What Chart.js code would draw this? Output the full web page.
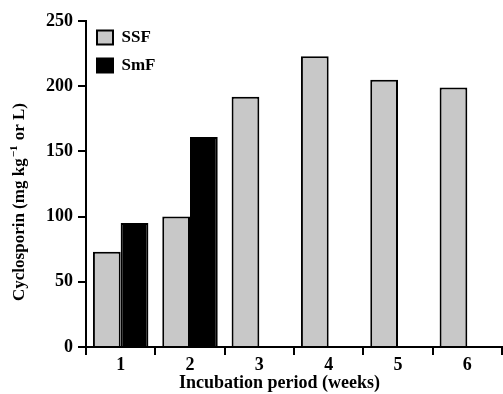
<!DOCTYPE html>
<html>
<head>
<meta charset="utf-8">
<script src="https://cdn.jsdelivr.net/npm/chart.js@4.4.1/dist/chart.umd.min.js"></script>
<style>
  html, body { margin: 0; padding: 0; background: #fff; }
  #wrap { width: 503px; height: 394px; }
</style>
</head>
<body>
<div id="wrap"><canvas id="cyclo" width="503" height="394"></canvas></div>
<script>
// data
const weeks = ['1', '2', '3', '4', '5', '6'];
const ssfValues = [73, 100, 192, 223, 205, 199];
const smfValues = [95, 161, null, null, null, null];
const yTicks = [0, 50, 100, 150, 200, 250];

const xTitle = 'Incubation period (weeks)';
const yTitleParts = ['Cyclosporin (mg kg', '\u22121', ' or L)'];

const serif = "'Liberation Serif', 'Times New Roman', serif";
Chart.defaults.font.family = serif;
Chart.defaults.font.weight = 'bold';
Chart.defaults.color = '#000';

// axis titles drawn by hand: the originals sit off-centre and use a real superscript
const axisTitles = {
  id: 'axisTitles',
  afterDraw(chart) {
    const { ctx, chartArea: a } = chart;
    ctx.save();
    ctx.fillStyle = '#000';
    ctx.textBaseline = 'middle';

    ctx.font = 'bold 18px ' + serif;
    ctx.textAlign = 'center';
    ctx.fillText(xTitle, a.left + (a.right - a.left) * 0.465, a.bottom + 36);

    const big = 'bold 17px ' + serif, small = 'bold 11px ' + serif;
    ctx.font = big;
    const w0 = ctx.measureText(yTitleParts[0]).width;
    const w2 = ctx.measureText(yTitleParts[2]).width;
    ctx.font = small;
    const w1 = ctx.measureText(yTitleParts[1]).width + 2;
    const total = w0 + w1 + w2;
    const cy = (a.top + a.bottom) / 2 + 18;
    ctx.translate(20, cy);
    ctx.rotate(-Math.PI / 2);
    ctx.textAlign = 'left';
    let x = -total / 2;
    ctx.font = big;
    ctx.fillText(yTitleParts[0], x, 0);
    x += w0;
    ctx.font = small;
    ctx.fillText(yTitleParts[1], x + 1, -6);
    x += w1;
    ctx.font = big;
    ctx.fillText(yTitleParts[2], x, 0);
    ctx.restore();
  }
};

const ctx = document.getElementById('cyclo').getContext('2d');

new Chart(ctx, {
  type: 'bar',
  data: {
    labels: weeks,
    datasets: [
      {
        label: 'SSF',
        data: ssfValues,
        backgroundColor: '#c8c8c8',
        borderColor: '#000',
        borderWidth: 2,
        borderSkipped: 'bottom'
      },
      {
        label: 'SmF',
        data: smfValues,
        backgroundColor: '#000',
        borderColor: '#000',
        borderWidth: 2,
        borderSkipped: 'bottom'
      }
    ]
  },
  options: {
    responsive: false,
    animation: false,
    layout: { padding: { top: 21, right: 1, bottom: 0, left: 0 } },
    datasets: { bar: { categoryPercentage: 0.8, barPercentage: 1.0 } },
    plugins: {
      tooltip: { enabled: false },
      legend: {
        position: 'chartArea',
        align: 'start',
        title: { display: true, text: '', font: { size: 10, lineHeight: 1 }, padding: { top: 8, bottom: 0 } },
        labels: {
          boxWidth: 16,
          boxHeight: 14,
          padding: 11,
          color: '#000',
          font: { size: 17, weight: 'bold', family: serif }
        }
      }
    },
    scales: {
      x: {
        offset: true,
        border: { display: true, color: '#000', width: 2 },
        grid: {
          offset: true,
          drawOnChartArea: false,
          drawTicks: true,
          tickLength: 8,
          color: '#000',
          lineWidth: 2
        },
        ticks: { padding: 0, font: { size: 18, weight: 'bold' }, color: '#000', maxRotation: 0 },
        afterFit: (s) => { s.height = 47; }
      },
      y: {
        min: 0,
        max: 250,
        border: { display: true, color: '#000', width: 2 },
        grid: {
          drawOnChartArea: false,
          drawTicks: true,
          tickLength: 8,
          color: '#000',
          lineWidth: 2
        },
        afterBuildTicks: (s) => { s.ticks = yTicks.map(v => ({ value: v })); },
        ticks: { padding: 5, font: { size: 18, weight: 'bold' }, color: '#000' },
        afterFit: (s) => { s.width = 86; }
      }
    }
  },
  plugins: [axisTitles]
});
</script>
</body>
</html>
